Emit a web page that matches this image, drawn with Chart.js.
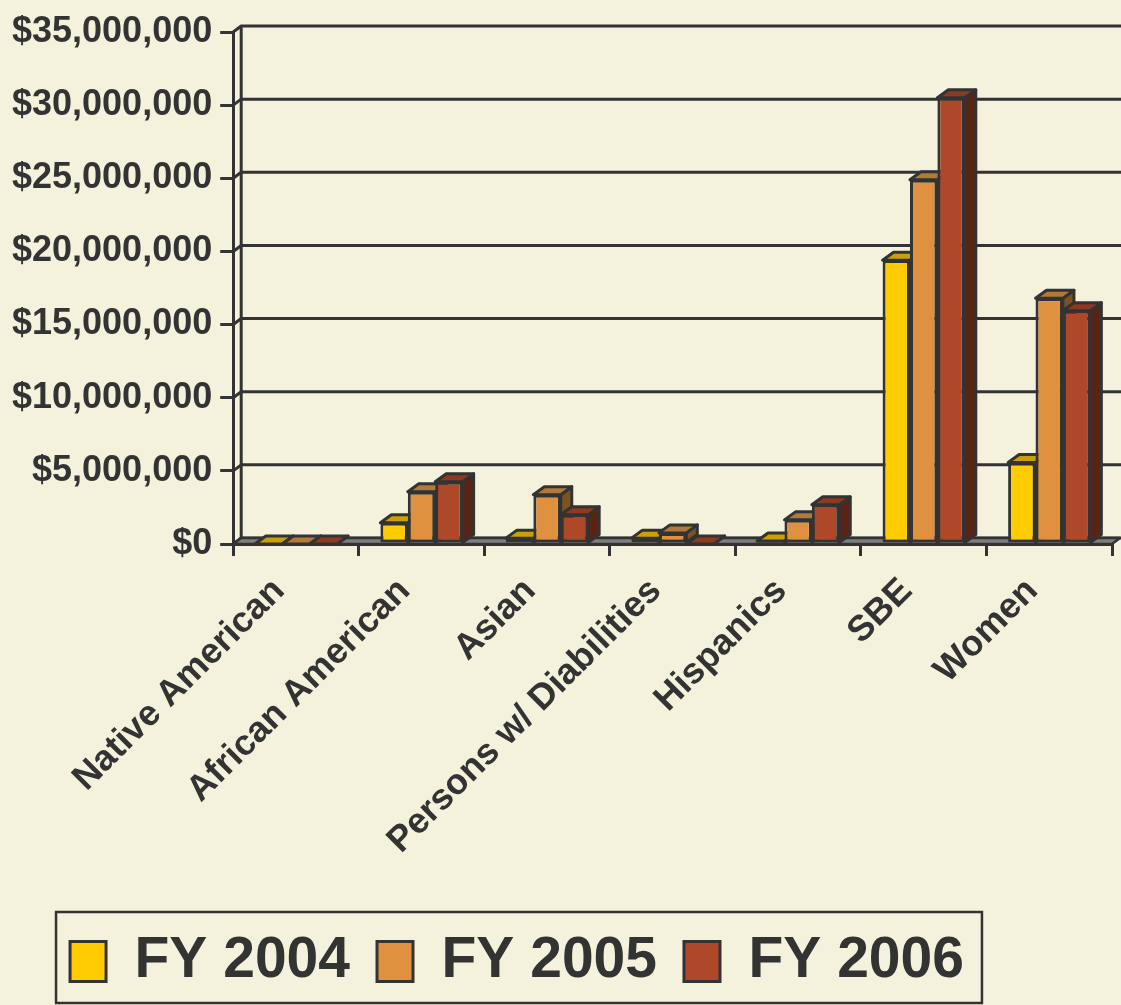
<!DOCTYPE html>
<html><head><meta charset="utf-8">
<script src="https://cdn.jsdelivr.net/npm/chart.js@4.4.1/dist/chart.umd.min.js"></script>
<style>
html,body{margin:0;padding:0;background:#F4F2DC;}
#wrap{width:1121px;height:1005px;position:relative;}
</style></head><body>
<div id="wrap"><canvas id="c" width="1121" height="1005"></canvas></div>
<script>
// ---- data ----
const categories = ['Native American', 'African American', 'Asian', 'Persons w/ Diabilities', 'Hispanics', 'SBE', 'Women'];
const seriesNames = ['FY 2004', 'FY 2005', 'FY 2006'];
const fy2004 = [0, 1450000, 400000, 400000, 200000, 19400000, 5570000];
const fy2005 = [0, 3570000, 3370000, 760000, 1650000, 24900000, 16800000];
const fy2006 = [0, 4260000, 2000000, 0, 2680000, 30500000, 15950000];
const yMin = 0, yMax = 35000000, yStep = 5000000;

// ---- styles ----
const INK = '#333333';
const frontColors = ['#FFCC00', '#E0913F', '#AE4829'];
const topColors = ['#C9A100', '#B07A3A', '#8C3A22'];
const sideColors = ['#9C7E00', '#7C5424', '#5A2414'];
const WALL_DX = 8, WALL_DY = -6;
const BAR_DX = 11, BAR_DY = -8;
const LEGEND_SHIFT = -41;

function poly(ctx, pts, fill, stroke, lw) {
  ctx.beginPath();
  ctx.moveTo(pts[0][0], pts[0][1]);
  for (let i = 1; i < pts.length; i++) ctx.lineTo(pts[i][0], pts[i][1]);
  ctx.closePath();
  if (fill) { ctx.fillStyle = fill; ctx.fill(); }
  if (stroke) { ctx.strokeStyle = stroke; ctx.lineWidth = lw; ctx.stroke(); }
}

const threeD = {
  id: 'threeD',
  afterLayout(chart) {
    const lg = chart.legend;
    if (lg) { lg.left += LEGEND_SHIFT; lg.right += LEGEND_SHIFT; }
  },
  beforeDatasetsDraw(chart) {
    const ctx = chart.ctx, a = chart.chartArea, ys = chart.scales.y;
    ctx.save();
    ctx.lineJoin = 'round';
    ctx.strokeStyle = INK; ctx.lineWidth = 3;
    ys.ticks.forEach(t => {
      const y = ys.getPixelForValue(t.value);
      ctx.beginPath();
      ctx.moveTo(a.left, y);
      ctx.lineTo(a.left + WALL_DX, y + WALL_DY);
      ctx.lineTo(chart.width, y + WALL_DY);
      ctx.stroke();
    });
    ctx.beginPath();
    ctx.moveTo(a.left + WALL_DX, a.top + WALL_DY);
    ctx.lineTo(a.left + WALL_DX, a.bottom + WALL_DY);
    ctx.stroke();
    poly(ctx, [[a.left, a.bottom], [a.right, a.bottom], [a.right + WALL_DX, a.bottom + WALL_DY], [a.left + WALL_DX, a.bottom + WALL_DY]], '#7E7E7E', INK, 2.5);
    const n = categories.length;
    for (let i = 0; i < n; i++) {
      chart.data.datasets.forEach((ds, d) => {
        const bar = chart.getDatasetMeta(d).data[i];
        const p = bar.getProps(['x', 'y', 'base', 'width'], true);
        const l = p.x - p.width / 2, r = p.x + p.width / 2;
        const top = Math.min(p.y, p.base), base = Math.max(p.y, p.base);
        poly(ctx, [[r, top], [r + BAR_DX, top + BAR_DY], [r + BAR_DX, base + BAR_DY], [r, base]], sideColors[d], INK, 3);
        poly(ctx, [[l, top], [r, top], [r + BAR_DX, top + BAR_DY], [l + BAR_DX, top + BAR_DY]], topColors[d], INK, 3);
      });
    }
    ctx.restore();
  },
  afterDraw(chart) {
    const lg = chart.legend;
    if (!lg || !lg.legendHitBoxes || !lg.legendHitBoxes.length) return;
    const hb = lg.legendHitBoxes;
    let minL = Infinity, maxR = -Infinity, minT = Infinity;
    hb.forEach(h => { minL = Math.min(minL, h.left); maxR = Math.max(maxR, h.left + h.width); minT = Math.min(minT, h.top); });
    const ctx = chart.ctx;
    const top = minT - 21;
    const bottom = Math.min(top + 91, chart.height - 2);
    ctx.save();
    ctx.strokeStyle = INK; ctx.lineWidth = 2.5;
    ctx.strokeRect(minL - 14, top, (maxR - minL) + 32, bottom - top);
    ctx.restore();
  }
};

Chart.defaults.font.family = "'Liberation Sans', Arial, sans-serif";
Chart.defaults.color = INK;

const seriesData = [fy2004, fy2005, fy2006];
new Chart(document.getElementById('c'), {
  type: 'bar',
  data: {
    labels: categories,
    datasets: seriesNames.map((name, k) => ({
      label: name,
      data: seriesData[k],
      backgroundColor: frontColors[k],
      borderColor: INK,
      borderWidth: 3,
      borderSkipped: false,
      categoryPercentage: 0.655,
      barPercentage: 1.0
    }))
  },
  options: {
    responsive: false,
    animation: false,
    events: [],
    layout: { padding: { left: 4, top: 32, right: 9, bottom: 5 } },
    plugins: {
      tooltip: { enabled: false },
      legend: {
        position: 'bottom',
        labels: {
          font: { size: 57, weight: 'bold' },
          color: INK,
          boxWidth: 36,
          boxHeight: 40,
          padding: 27
        }
      }
    },
    scales: {
      x: {
        offset: true,
        grid: { display: true, drawOnChartArea: false, offset: true, color: INK, lineWidth: 3, tickLength: 12, tickColor: INK },
        border: { display: true, color: INK, width: 3 },
        ticks: { autoSkip: false, maxRotation: 45, minRotation: 45, font: { size: 36, weight: 'bold' }, color: INK, padding: 14, labelOffset: -17 },
        afterFit(s) { s.height = 362; }
      },
      y: {
        min: yMin, max: yMax,
        grid: { display: true, drawOnChartArea: false, color: INK, lineWidth: 3, tickLength: 13, tickColor: INK },
        border: { display: true, color: INK, width: 3 },
        ticks: {
          stepSize: yStep,
          font: { size: 36, weight: 'bold' },
          color: INK,
          padding: 8,
          callback: v => '$' + Number(v).toLocaleString('en-US')
        }
      }
    }
  },
  plugins: [threeD]
});
</script>
</body></html>
